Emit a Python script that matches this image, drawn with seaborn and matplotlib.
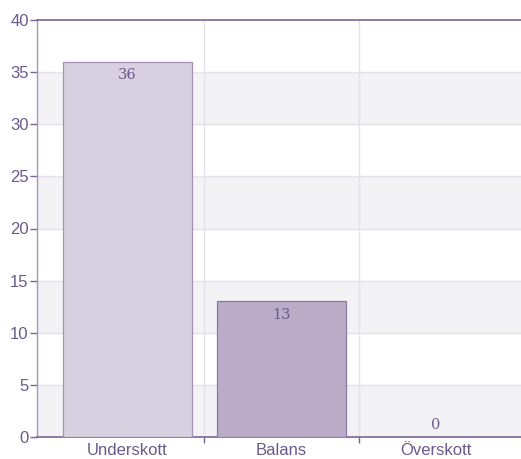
import matplotlib
matplotlib.use("Agg")
import matplotlib.pyplot as plt
import seaborn as sns
import pandas as pd

categories = ["Underskott", "Balans", "Överskott"]
values = [36, 13, 0]
bar_colors = ["#d7d0e0", "#baacc7", "#baacc7"]
edge_colors = ["#a193b8", "#8b77a6", "#8b77a6"]
y_ticks = [0, 5, 10, 15, 20, 25, 30, 35, 40]

sns.set_theme(style="white")
plt.rcParams['font.family'] = ['Liberation Sans', 'DejaVu Sans']

text_color = "#6a5a8c"
axis_color = "#7a6497"

fig = plt.figure(figsize=(5.21, 4.59), dpi=100)
ax = fig.add_axes([37/521, 1 - 437/459, 1 - 37/521 + 0.002, (437 - 20)/459])

df = pd.DataFrame({"cat": categories, "val": values})
sns.barplot(data=df, x="cat", y="val", hue="cat", palette=bar_colors,
            width=0.835, ax=ax, legend=False, saturation=1)

for patch, ec in zip(ax.patches, edge_colors):
    patch.set_edgecolor(ec)
    patch.set_linewidth(0.9)
    patch.set_zorder(3)

ax.set_xlim(-0.586, 2.56)
ax.set_ylim(0, 40)

# alternating bands
for lo in range(0, 40, 10):
    ax.axhspan(lo, lo + 5, color="#f3f3f6", zorder=0, lw=0)
for t in y_ticks[1:-1]:
    ax.axhline(t, color="#e3e0e9", lw=1, zorder=1)
for b in [0.5, 1.5]:
    ax.axvline(b, color="#e5e2ea", lw=1, zorder=1)

ax.set_yticks(y_ticks)
ax.set_yticklabels([str(t) for t in y_ticks])
ax.set_xticks([0, 1, 2])
ax.set_xticklabels(categories)
ax.set_xlabel("")
ax.set_ylabel("")

ax.tick_params(axis="y", which="both", length=5, width=1, color=axis_color,
               labelcolor=text_color, labelsize=12, pad=1, left=True)
ax.tick_params(axis="x", which="major", length=0, labelcolor=text_color,
               labelsize=12, pad=4)
ax.set_xticks([0.5, 1.5], minor=True)
ax.tick_params(axis="x", which="minor", length=4, width=1, color=axis_color,
               bottom=True, direction="out")

for side in ["left", "bottom", "top"]:
    ax.spines[side].set_visible(True)
    ax.spines[side].set_color(axis_color)
    ax.spines[side].set_linewidth(1.2)
ax.spines["left"].set_color("#a496ba")
ax.spines["left"].set_linewidth(1)
ax.spines["right"].set_visible(False)

for i, v in enumerate(values):
    if v >= 3:
        ax.text(i, v - 0.6, str(v), ha="center", va="top", color=text_color,
                fontsize=10.5, family="DejaVu Serif", zorder=5)
    else:
        ax.text(i, v + 0.45, str(v), ha="center", va="bottom", color=text_color,
                fontsize=10.5, family="DejaVu Serif", zorder=5)

fig.savefig("out.png", dpi=100)
